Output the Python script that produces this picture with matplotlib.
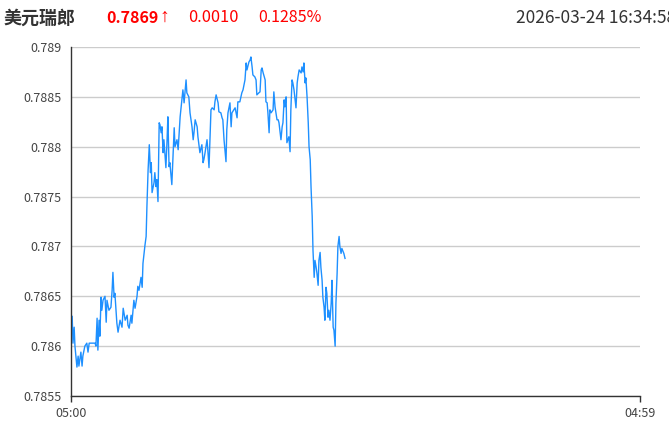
"""USD/CHF intraday minute chart (美元瑞郎), 05:00 -> 04:59 session."""
import matplotlib
matplotlib.use("Agg")
import matplotlib.pyplot as plt

plt.rcParams["font.family"] = ["Noto Sans CJK SC", "DejaVu Sans"]

# minutes after 05:00 and price at that minute
MINUTES = [
    0, 3, 5, 8, 10, 15, 18, 20, 25, 28, 30, 35, 40, 43, 46, 61, 63, 66, 68, 71,
    73, 76, 78, 81, 86, 89, 91, 96, 101, 104, 106, 109, 111, 116, 119, 124, 129, 132, 137, 142,
    144, 147, 152, 154, 159, 162, 167, 169, 172, 177, 180, 182, 187, 190, 192, 195, 198, 201, 203, 205,
    210, 212, 215, 217, 220, 223, 225, 228, 230, 233, 235, 240, 243, 245, 248, 250, 255, 258, 261, 263,
    268, 271, 276, 281, 283, 286, 291, 293, 298, 301, 306, 309, 311, 314, 319, 321, 326, 331, 334, 336,
    339, 344, 346, 349, 354, 357, 362, 364, 367, 372, 374, 379, 382, 384, 387, 392, 394, 397, 402, 405,
    407, 412, 415, 420, 422, 427, 432, 435, 440, 443, 445, 450, 453, 455, 458, 460, 465, 468, 470, 475,
    478, 481, 483, 486, 491, 493, 496, 498, 501, 503, 506, 511, 513, 516, 521, 524, 526, 531, 534, 536,
    539, 541, 544, 546, 551, 554, 556, 559, 561, 564, 569, 572, 574, 577, 582, 584, 587, 589, 592, 594,
    597, 600, 602, 605, 607, 610, 612, 615, 617, 620, 622, 625, 627, 630, 632, 635, 637, 640, 642, 645,
    647, 650, 652, 655, 658, 660, 663, 665, 668, 670, 673, 675, 678, 680, 683, 685, 690, 693,
]
PRICES = [
    0.78610, 0.78630, 0.78603, 0.78619, 0.78600, 0.78579, 0.78590, 0.78580, 0.78594, 0.78580,
    0.78590, 0.78600, 0.78603, 0.78594, 0.78603, 0.78603, 0.78600, 0.78628, 0.78596, 0.78626,
    0.78610, 0.78649, 0.78636, 0.78646, 0.78650, 0.78624, 0.78646, 0.78636, 0.78639, 0.78656,
    0.78674, 0.78649, 0.78653, 0.78623, 0.78614, 0.78626, 0.78619, 0.78638, 0.78626, 0.78631,
    0.78621, 0.78618, 0.78631, 0.78623, 0.78646, 0.78638, 0.78650, 0.78660, 0.78656, 0.78669,
    0.78659, 0.78683, 0.78701, 0.78710, 0.78740, 0.78777, 0.78802, 0.78774, 0.78784, 0.78754,
    0.78764, 0.78774, 0.78760, 0.78767, 0.78745, 0.78824, 0.78822, 0.78814, 0.78820, 0.78794,
    0.78807, 0.78779, 0.78807, 0.78830, 0.78780, 0.78784, 0.78762, 0.78790, 0.78819, 0.78800,
    0.78807, 0.78797, 0.78830, 0.78850, 0.78857, 0.78844, 0.78867, 0.78854, 0.78850, 0.78834,
    0.78820, 0.78807, 0.78814, 0.78827, 0.78820, 0.78810, 0.78794, 0.78802, 0.78784, 0.78787,
    0.78794, 0.78807, 0.78797, 0.78779, 0.78837, 0.78839, 0.78837, 0.78845, 0.78852, 0.78844,
    0.78835, 0.78834, 0.78829, 0.78827, 0.78807, 0.78785, 0.78817, 0.78834, 0.78844, 0.78820,
    0.78834, 0.78837, 0.78839, 0.78829, 0.78845, 0.78845, 0.78854, 0.78857, 0.78867, 0.78884,
    0.78877, 0.78885, 0.78887, 0.78890, 0.78880, 0.78872, 0.78870, 0.78867, 0.78852, 0.78854,
    0.78855, 0.78877, 0.78879, 0.78874, 0.78867, 0.78845, 0.78844, 0.78834, 0.78814, 0.78837,
    0.78834, 0.78837, 0.78855, 0.78840, 0.78827, 0.78827, 0.78824, 0.78807, 0.78820, 0.78824,
    0.78847, 0.78840, 0.78850, 0.78804, 0.78810, 0.78795, 0.78837, 0.78867, 0.78864, 0.78857,
    0.78839, 0.78864, 0.78870, 0.78877, 0.78874, 0.78880, 0.78875, 0.78884, 0.78864, 0.78869,
    0.78850, 0.78824, 0.78800, 0.78787, 0.78760, 0.78730, 0.78696, 0.78669, 0.78686, 0.78679,
    0.78673, 0.78661, 0.78686, 0.78694, 0.78679, 0.78666, 0.78649, 0.78639, 0.78626, 0.78659,
    0.78653, 0.78629, 0.78636, 0.78626, 0.78643, 0.78666, 0.78619, 0.78616, 0.78600, 0.78643,
    0.78673, 0.78700, 0.78710, 0.78700, 0.78693, 0.78698, 0.78693, 0.78688,
]

Y_TICKS = [0.7855, 0.786, 0.7865, 0.787, 0.7875, 0.788, 0.7885, 0.789]
Y_LABELS = ["0.7855", "0.786", "0.7865", "0.787", "0.7875", "0.788", "0.7885", "0.789"]
X_TICKS = [0, 1439]
X_LABELS = ["05:00", "04:59"]

NAME = "美元瑞郎"
LAST = "0.7869"
ARROW = "↑"
CHANGE = "0.0010"
CHANGE_PCT = "0.1285%"
STAMP = "2026-03-24 16:34:58"


def main():
    fig = plt.figure(figsize=(6.69, 4.36), dpi=100)
    ax = fig.add_axes([71 / 669, 1 - 396 / 436, (640 - 71) / 669, (396 - 47) / 436])

    ax.plot(MINUTES, PRICES, color="#1e90ff", linewidth=1.0)

    ax.set_xlim(0, 1439)
    ax.set_ylim(0.7855, 0.789)
    ax.set_yticks(Y_TICKS)
    ax.set_yticklabels(Y_LABELS)
    ax.set_xticks(X_TICKS)
    ax.set_xticklabels(X_LABELS)
    ax.tick_params(axis="y", length=0, pad=6.5, labelsize=9, labelcolor="#444444")
    ax.tick_params(axis="x", length=4, width=1, color="#333333", pad=4,
                   labelsize=9, labelcolor="#444444")
    ax.grid(axis="y", color="#cccccc", linewidth=1)
    ax.set_axisbelow(True)
    for side in ("top", "right"):
        ax.spines[side].set_visible(False)
    for side in ("left", "bottom"):
        ax.spines[side].set_color("#333333")
        ax.spines[side].set_linewidth(1)

    # header row (timestamp runs off the right edge, as in the source screenshot)
    y = 1 - 18 / 436
    fig.text(3 / 669, y, NAME, fontsize=13, fontweight="bold", color="#333333", va="center")
    fig.text(106 / 669, y, LAST, fontsize=11.5, fontweight="bold", color="#ff0000", va="center")
    fig.text(159 / 669, y + 0.002, ARROW, fontsize=14, color="#ff0000", va="center",
             family=["Liberation Sans", "DejaVu Sans"])
    fig.text(188 / 669, y, CHANGE, fontsize=11.8, color="#ff0000", va="center")
    fig.text(258 / 669, y, CHANGE_PCT, fontsize=11.5, color="#ff0000", va="center")
    fig.text(516 / 669, y, STAMP, fontsize=12.5, color="#333333", va="center")

    fig.savefig("out.png", dpi=100)
    plt.close(fig)


if __name__ == "__main__":
    main()
